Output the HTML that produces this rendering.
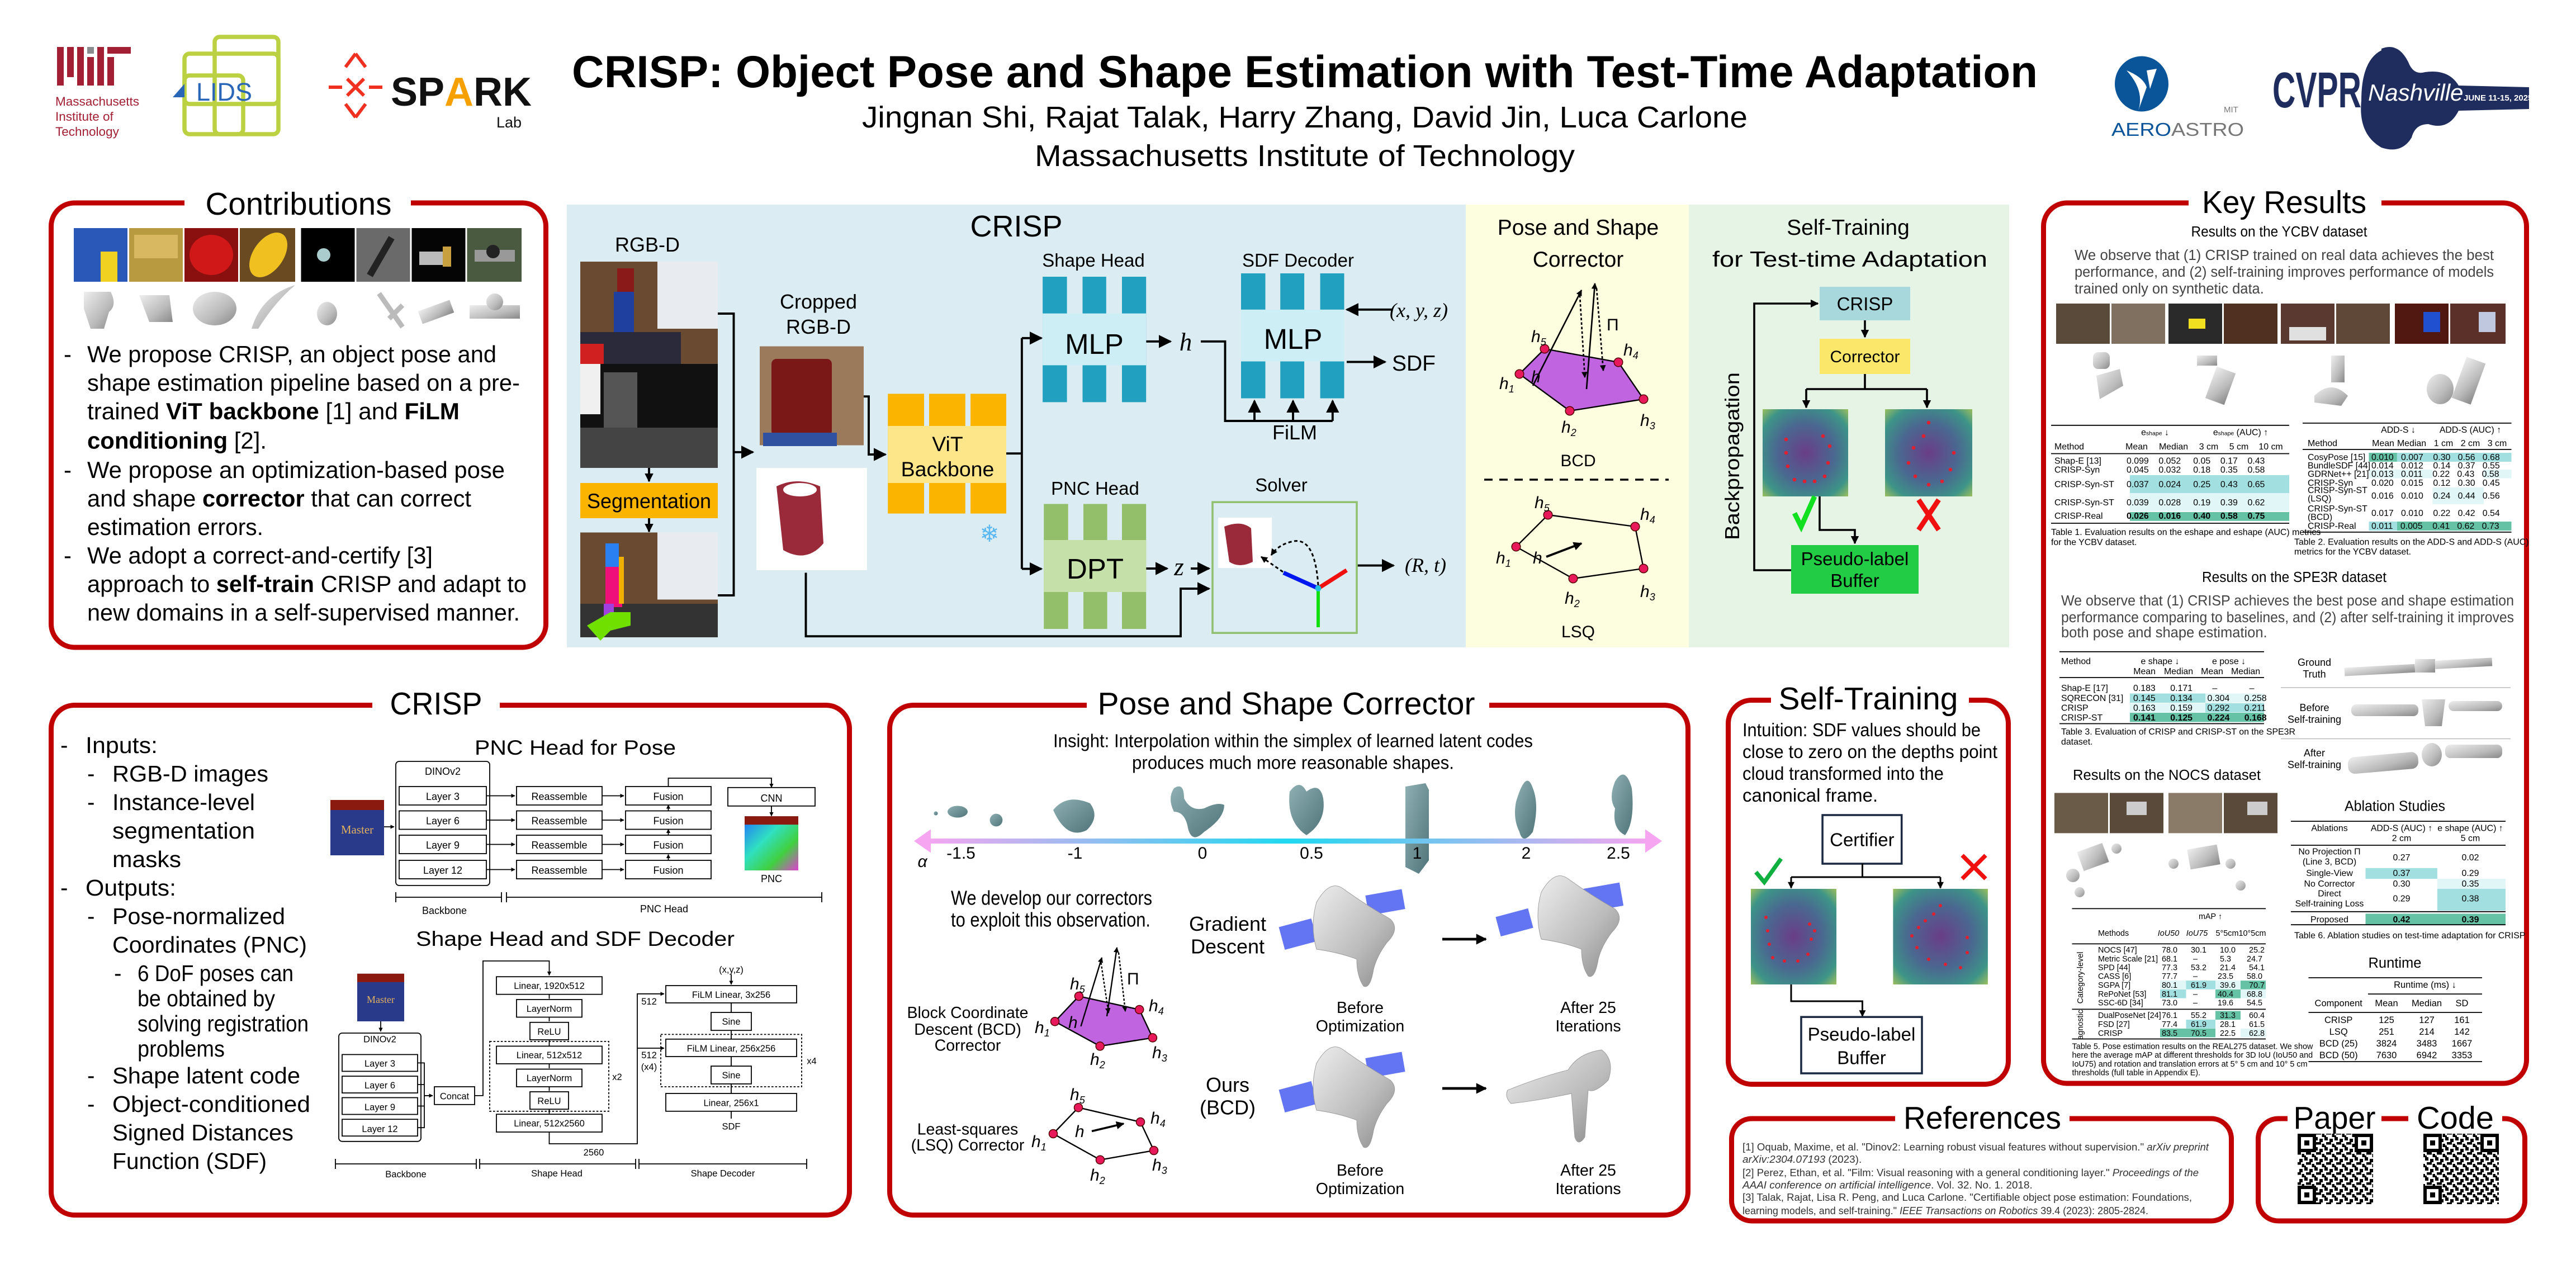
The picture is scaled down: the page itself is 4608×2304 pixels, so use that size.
<!DOCTYPE html>
<html><head><meta charset="utf-8"><style>
html,body{margin:0;padding:0;background:#fff;width:4608px;height:2304px;overflow:hidden}
svg{display:block}
text{font-family:"Liberation Sans",sans-serif;white-space:pre}
.m{font-family:"Liberation Mono",monospace}
.s{font-family:"Liberation Serif",serif}
</style></head><body>
<svg xmlns="http://www.w3.org/2000/svg" width="4608" height="2304" viewBox="0 0 1536 768" xml:space="preserve">
<defs>
<marker id="a" viewBox="0 0 10 10" refX="9" refY="5" markerWidth="4" markerHeight="4" orient="auto-start-reverse"><path d="M0,0L10,5L0,10z" fill="#000"/></marker>
<marker id="as" viewBox="0 0 10 10" refX="9" refY="5" markerWidth="6" markerHeight="6" orient="auto-start-reverse"><path d="M0,0L10,5L0,10z" fill="#000"/></marker>
<linearGradient id="rain" x1="0" x2="1"><stop offset="0" stop-color="#f6a6f0"/><stop offset=".5" stop-color="#20d8f0"/><stop offset="1" stop-color="#f6a6f0"/></linearGradient>
<radialGradient id="heat" cx=".5" cy=".5" r=".75"><stop offset="0" stop-color="#6a3d88"/><stop offset=".45" stop-color="#4a6890"/><stop offset=".75" stop-color="#3d9488"/><stop offset="1" stop-color="#b8cc50"/></radialGradient>
<linearGradient id="gray" x1="0" y1="0" x2="1" y2="1"><stop offset="0" stop-color="#eee"/><stop offset=".6" stop-color="#bbb"/><stop offset="1" stop-color="#888"/></linearGradient>
<linearGradient id="teal" x1="0" y1="0" x2="1" y2="1"><stop offset="0" stop-color="#8fb0b3"/><stop offset="1" stop-color="#4f7479"/></linearGradient>
<linearGradient id="pnc" x1="0" y1="0" x2="1" y2="1"><stop offset="0" stop-color="#2070ff"/><stop offset=".4" stop-color="#30e0c0"/><stop offset=".7" stop-color="#40d040"/><stop offset="1" stop-color="#e040d0"/></linearGradient>
<pattern id="qr" width="6" height="6" patternUnits="userSpaceOnUse"><rect width="6" height="6" fill="#fff"/><rect x="0" y="0" width="2" height="2"/><rect x="3" y="1" width="2" height="2"/><rect x="1" y="3" width="3" height="1.5"/><rect x="4.5" y="4" width="1.5" height="2"/><rect x="0" y="5" width="1" height="1"/></pattern>
</defs>

<!-- HEADER -->
<g fill="#a31f34"><rect x="34" y="28" width="4" height="23"/><rect x="40" y="28" width="4" height="18"/><rect x="46" y="28" width="4" height="23"/><rect x="52" y="34" width="4" height="17"/><rect x="58" y="28" width="4" height="23"/><rect x="64" y="28" width="14" height="4"/><rect x="64" y="34" width="4" height="17"/><rect x="52" y="28" width="4" height="4" fill="#8a8b8c"/></g>
<g fill="#a31f34" font-size="7.5"><text x="33" y="63">Massachusetts</text><text x="33" y="72">Institute of</text><text x="33" y="81">Technology</text></g>
<g fill="none" stroke="#bcd142" stroke-width="2.5"><rect x="110" y="32" width="56" height="30" rx="3"/><rect x="128" y="22" width="38" height="58" rx="3"/><rect x="110" y="45" width="35" height="35" rx="3"/></g>
<text x="117" y="60" font-size="15" fill="#2a66b8">LIDS</text>
<path d="M103,58 L110,50 L110,58z" fill="#2a66b8"/>
<g stroke="#f03020" stroke-width="2" fill="none"><path d="M212,32 l-6,8 M212,32 l6,8 M196,52 l8,0 M220,52 l8,0 M212,70 l-6,-8 M212,70 l6,-8"/><path d="M207,47 l10,10 M217,47 l-10,10"/></g>
<text x="233" y="63" font-size="24" font-weight="bold" fill="#111">SP<tspan fill="#f6a000">A</tspan>RK</text>
<text x="296" y="76" font-size="9" fill="#111">Lab</text>
<text x="778" y="52" font-size="27" font-weight="bold" text-anchor="middle" textLength="874" lengthAdjust="spacingAndGlyphs">CRISP: Object Pose and Shape Estimation with Test-Time Adaptation</text>
<text x="778" y="76" font-size="18" text-anchor="middle" textLength="528" lengthAdjust="spacingAndGlyphs">Jingnan Shi, Rajat Talak, Harry Zhang, David Jin, Luca Carlone</text>
<text x="778" y="99" font-size="18" text-anchor="middle" textLength="322" lengthAdjust="spacingAndGlyphs">Massachusetts Institute of Technology</text>
<ellipse cx="1277" cy="50" rx="16" ry="16.5" fill="#0a5599"/>
<path d="M1268,42 q10,4 12,10 l-5,14 q4,-12 -7,-24z M1280,42 l6,-1 -4,12z" fill="#fff"/>
<text x="1326" y="67" font-size="5" fill="#777">MIT</text>
<text x="1259" y="81" font-size="11" fill="#0a5599" textLength="79" lengthAdjust="spacingAndGlyphs">AERO<tspan fill="#777">ASTRO</tspan></text>
<text x="1355" y="64" font-size="30" font-weight="bold" fill="#1f2d5e" textLength="53" lengthAdjust="spacingAndGlyphs">CVPR</text>
<path d="M1420,29 q10,-4 16,8 q3,8 10,6 q14,-2 20,8 l42,1 v13 l-42,1 q-6,12 -18,8 q-8,0 -10,8 q-6,10 -18,6 q-14,-8 -12,-28 q0,-24 12,-30z" fill="#1f2d5e"/>
<text x="1412" y="60" font-size="14" font-style="italic" fill="#fff" font-family="Liberation Serif,serif">Nashville</text>
<text x="1469" y="60" font-size="5" fill="#fff" font-weight="bold">JUNE 11-15, 2025</text>

<!-- CONTRIBUTIONS -->
<rect x="30.5" y="121" width="295" height="265" rx="14" fill="none" stroke="#c00000" stroke-width="3"/>
<rect x="110" y="112" width="135" height="16" fill="#fff"/>
<text x="178" y="128" font-size="19" text-anchor="middle" textLength="111" lengthAdjust="spacingAndGlyphs">Contributions</text>
<g>
<rect x="44" y="136" width="32" height="32" fill="#2a58b8"/><rect x="60" y="150" width="10" height="18" fill="#f0d020"/>
<rect x="77" y="136" width="32" height="32" fill="#b89a40"/><rect x="80" y="140" width="26" height="14" fill="#d8b860"/>
<rect x="110" y="136" width="32" height="32" fill="#8a1010"/><ellipse cx="126" cy="152" rx="13" ry="12" fill="#d01818"/>
<rect x="143" y="136" width="33" height="32" fill="#6a4a20"/><ellipse cx="160" cy="152" rx="9" ry="15" fill="#f0c020" transform="rotate(35 160 152)"/>
<rect x="179.5" y="136" width="32" height="32" fill="#000"/><circle cx="193" cy="152" r="4" fill="#aacccc"/>
<rect x="212.5" y="136" width="32" height="32" fill="#6a6a6a"/><rect x="225" y="140" width="4" height="26" fill="#222" transform="rotate(30 227 153)"/>
<rect x="245.5" y="136" width="32" height="32" fill="#050505"/><rect x="250" y="150" width="14" height="8" fill="#bbb"/><rect x="264" y="147" width="5" height="12" fill="#c8a040"/>
<rect x="278.5" y="136" width="32.5" height="32" fill="#4a5a40"/><rect x="283" y="149" width="24" height="7" fill="#999"/><circle cx="294" cy="150" r="4" fill="#222"/>
</g>
<g fill="url(#gray)">
<path d="M50,174 h16 q4,8 -1,12 l-3,10 h-8 l-4,-12z"/><path d="M83,176 h18 l2,16 h-14z"/><ellipse cx="128" cy="184" rx="13" ry="10"/>
<path d="M150,196 q6,-20 26,-26 q-12,10 -22,26z"/><ellipse cx="195" cy="187" rx="6" ry="7"/><path d="M226,175 l14,20 M232,190 l8,-8" stroke="#bbb" stroke-width="3"/>
<rect x="250" y="182" width="20" height="8" transform="rotate(-20 260 186)"/><rect x="280" y="182" width="30" height="8"/><circle cx="295" cy="180" r="5"/>
</g>
<g font-size="14">
<text x="38" y="216">-</text><text x="38" y="285">-</text><text x="38" y="336">-</text>
<text x="52" y="216" textLength="244" lengthAdjust="spacingAndGlyphs">We propose CRISP, an object pose and</text>
<text x="52" y="233" textLength="258" lengthAdjust="spacingAndGlyphs">shape estimation pipeline based on a pre-</text>
<text x="52" y="250" textLength="222" lengthAdjust="spacingAndGlyphs">trained <tspan font-weight="bold">ViT backbone</tspan> [1] and <tspan font-weight="bold">FiLM</tspan></text>
<text x="52" y="267.5" textLength="107" lengthAdjust="spacingAndGlyphs"><tspan font-weight="bold">conditioning</tspan> [2].</text>
<text x="52" y="285" textLength="249" lengthAdjust="spacingAndGlyphs">We propose an optimization-based pose</text>
<text x="52" y="302" textLength="229" lengthAdjust="spacingAndGlyphs">and shape <tspan font-weight="bold">corrector</tspan> that can correct</text>
<text x="52" y="319" textLength="105" lengthAdjust="spacingAndGlyphs">estimation errors.</text>
<text x="52" y="336" textLength="206" lengthAdjust="spacingAndGlyphs">We adopt a correct-and-certify [3]</text>
<text x="52" y="353" textLength="262" lengthAdjust="spacingAndGlyphs">approach to <tspan font-weight="bold">self-train</tspan> CRISP and adapt to</text>
<text x="52" y="370" textLength="258" lengthAdjust="spacingAndGlyphs">new domains in a self-supervised manner.</text>
</g>

<!-- MAIN DIAGRAM -->
<rect x="338" y="122" width="536" height="264" fill="#dbedf2"/>
<rect x="874" y="122" width="133" height="264" fill="#fdfde0"/>
<rect x="1007" y="122" width="191" height="264" fill="#e6f4e6"/>
<text x="606" y="141" font-size="18" text-anchor="middle">CRISP</text>
<text x="386" y="150" font-size="12" text-anchor="middle">RGB-D</text>
<rect x="346" y="156" width="82" height="61" fill="#6a4a30"/><rect x="392" y="156" width="36" height="40" fill="#e8ecf0"/><rect x="346" y="198" width="60" height="19" fill="#2a2a3a"/><rect x="346" y="205" width="14" height="12" fill="#d02020"/><rect x="368" y="160" width="10" height="14" fill="#8a1a1a"/><rect x="366" y="174" width="12" height="24" fill="#2040a0"/>
<rect x="346" y="217" width="82" height="62" fill="#111"/><rect x="346" y="217" width="12" height="30" fill="#f0f0f0"/><rect x="360" y="222" width="20" height="40" fill="#555"/><rect x="346" y="255" width="82" height="24" fill="#444"/>
<rect x="346" y="288" width="82" height="21" fill="#fbb400"/>
<text x="387" y="303" font-size="12.5" text-anchor="middle" textLength="74" lengthAdjust="spacingAndGlyphs">Segmentation</text>
<rect x="346" y="317.5" width="82" height="62.5" fill="#6a4a30"/><rect x="392" y="317.5" width="36" height="40" fill="#e8ecf0"/><rect x="346" y="360" width="82" height="20" fill="#333"/><rect x="361" y="324" width="8" height="14" fill="#2a80f0"/><rect x="361" y="338" width="10" height="24" fill="#f0107a"/><rect x="360" y="360" width="6" height="8" fill="#a040e0"/><path d="M350,373 l14,-8 h12 v8 l-12,3 -6,6z" fill="#70e000"/><rect x="369" y="332" width="3" height="28" fill="#f0b000"/>
<g stroke="#000" stroke-width="1.3" fill="none">
<path d="M428,187 H437.5 V355 H428"/><path d="M437.5,269.6 H449" marker-end="url(#as)"/>
<path d="M387,279 V287" marker-end="url(#a)"/><path d="M387,309 V317" marker-end="url(#a)"/>
<path d="M515,236.4 H518 V271 H528" marker-end="url(#as)"/>
<path d="M600,270.4 H609.3 M609.3,201.6 V339.2"/><path d="M609.3,201.6 H621" marker-end="url(#as)"/><path d="M609.3,339.2 H621" marker-end="url(#as)"/>
<path d="M683.4,203.6 H698" marker-end="url(#as)"/>
<path d="M716,203.6 H730.5 V251 H794.6"/>
<path d="M748,251 V239" marker-end="url(#as)"/><path d="M771,251 V239" marker-end="url(#as)"/><path d="M794.6,251 V239" marker-end="url(#as)"/>
<path d="M830,184.6 H803" marker-end="url(#as)"/><path d="M803,215.8 H826" marker-end="url(#as)"/>
<path d="M683.4,339 H696" marker-end="url(#as)"/><path d="M710,339 H721" marker-end="url(#as)"/>
<path d="M809,337.2 H831" marker-end="url(#as)"/>
<path d="M480.5,341.5 V379.4 H704 V351 H721" marker-end="url(#as)"/>
</g>
<text x="488" y="184" font-size="12" text-anchor="middle">Cropped</text><text x="488" y="199" font-size="12" text-anchor="middle">RGB-D</text>
<rect x="453" y="206.5" width="62" height="59" fill="#9a7a5a"/><rect x="460" y="214" width="36" height="46" rx="3" fill="#7a1818"/><rect x="455" y="258" width="44" height="8" fill="#3050a0"/>
<rect x="451" y="279" width="66" height="61" fill="#fff"/><path d="M463,290 q12,-6 26,0 l2,34 q-10,12 -24,4z" fill="#9a2a3a"/><ellipse cx="477" cy="292" rx="10" ry="4" fill="#fff"/>
<rect x="529.4" y="234.8" width="21.6" height="71.4" fill="#fbb400"/><rect x="554" y="234.8" width="21.6" height="71.4" fill="#fbb400"/><rect x="578.7" y="234.8" width="21.3" height="71.4" fill="#fbb400"/>
<rect x="529.4" y="254" width="70.6" height="34" fill="#fde68a"/>
<text x="565" y="269" font-size="12.5" text-anchor="middle">ViT</text><text x="565" y="284" font-size="12.5" text-anchor="middle">Backbone</text>
<text x="590" y="323" font-size="14" text-anchor="middle" fill="#5bb8f0">❄</text>
<text x="652" y="159" font-size="11" text-anchor="middle">Shape Head</text>
<g fill="#22a0bf"><rect x="621.7" y="165" width="14.5" height="74.8"/><rect x="645.5" y="165" width="14.1" height="74.8"/><rect x="669" y="165" width="14.4" height="74.8"/><rect x="740" y="163" width="14.5" height="74.5"/><rect x="763.4" y="163" width="14.3" height="74.5"/><rect x="787.2" y="163" width="14.3" height="74.5"/></g>
<rect x="621.7" y="186.9" width="61.7" height="30.9" fill="#cdeef4"/><rect x="740" y="184.6" width="61.5" height="30.9" fill="#cdeef4"/>
<text x="652.5" y="211" font-size="17" text-anchor="middle">MLP</text><text x="771" y="208" font-size="17" text-anchor="middle">MLP</text>
<text x="707" y="209" font-size="15" font-style="italic" class="s" text-anchor="middle">h</text>
<text x="774" y="159" font-size="11" text-anchor="middle">SDF Decoder</text>
<text x="846" y="189" font-size="12" class="s" font-style="italic" text-anchor="middle">(x, y, z)</text>
<text x="843" y="221" font-size="13" text-anchor="middle">SDF</text>
<text x="772" y="262" font-size="12" text-anchor="middle">FiLM</text>
<text x="653" y="295" font-size="11" text-anchor="middle">PNC Head</text>
<g fill="#93bf6a"><rect x="622.4" y="300.5" width="14.5" height="74.5"/><rect x="646" y="300.5" width="14.2" height="74.5"/><rect x="669" y="300.5" width="14.4" height="74.5"/></g>
<rect x="622.4" y="322" width="61" height="31" fill="#c6e0aa"/>
<text x="653" y="345" font-size="17" text-anchor="middle">DPT</text>
<text x="703" y="343" font-size="15" font-style="italic" class="s" text-anchor="middle">z</text>
<text x="764" y="293" font-size="11" text-anchor="middle">Solver</text>
<rect x="723" y="299.4" width="86" height="78" fill="#dbedf2" stroke="#90c070" stroke-width="1.2"/>
<rect x="726.4" y="308.7" width="32" height="30" fill="#fff"/><path d="M730,314 q10,-4 16,1 l1,20 q-8,4 -14,0z" fill="#9a2a3a"/>
<path d="M786,350.8 L765.3,341.5" stroke="#0018f0" stroke-width="2.5"/><path d="M786,350.8 L803,340" stroke="#f01010" stroke-width="2.5"/><path d="M786,350.8 V374" stroke="#10e010" stroke-width="2"/><circle cx="786" cy="350.8" r="1.8" fill="#20c0e0"/>
<path d="M786,349 q-2,-30 -16,-26 q-8,2 -12,8" fill="none" stroke="#000" stroke-dasharray="2,1.5" marker-end="url(#a)"/><path d="M765,341 L752,332" fill="none" stroke="#000" stroke-dasharray="2,1.5" marker-end="url(#a)"/>
<text x="850" y="341" font-size="12" class="s" font-style="italic" text-anchor="middle">(R, t)</text>
<!-- yellow -->
<text x="941" y="140" font-size="13" text-anchor="middle">Pose and Shape</text><text x="941" y="159" font-size="13" text-anchor="middle">Corrector</text>
<polygon points="921,208 965,216 980,238 936,245 906,223" fill="#c064e0" stroke="#000" stroke-width=".8"/>
<g stroke="#000" stroke-width=".9" fill="none"><path d="M914,230 L943,173" marker-end="url(#a)"/><path d="M946,232 L951,169" marker-end="url(#a)"/><path d="M942,176 L945,225" stroke-dasharray="1.5,1.2" marker-end="url(#a)"/><path d="M952,172 L956,221" stroke-dasharray="1.5,1.2" marker-end="url(#a)"/></g>
<g fill="#e8195a" stroke="#500" stroke-width=".5"><circle cx="921" cy="208" r="2.6"/><circle cx="965" cy="216" r="2.6"/><circle cx="980" cy="238" r="2.6"/><circle cx="936" cy="245" r="2.6"/><circle cx="906" cy="223" r="2.6"/></g>
<g class="s" font-style="italic" font-size="10"><text x="913" y="204">h<tspan font-size="6" dy="2">5</tspan></text><text x="968" y="212">h<tspan font-size="6" dy="2">4</tspan></text><text x="978" y="254">h<tspan font-size="6" dy="2">3</tspan></text><text x="931" y="258">h<tspan font-size="6" dy="2">2</tspan></text><text x="894" y="232">h<tspan font-size="6" dy="2">1</tspan></text><text x="913" y="228">h</text><text x="958" y="197" font-style="normal">Π</text></g>
<text x="941" y="278" font-size="10" text-anchor="middle">BCD</text>
<path d="M885,286 H995" stroke="#000" stroke-width="1.2" stroke-dasharray="5,4"/>
<polygon points="923,307 975,314 980,339 938,345 904,326" fill="none" stroke="#000" stroke-width=".8"/>
<path d="M922,332 L943,324" stroke="#000" stroke-width="1.3" marker-end="url(#a)"/>
<g fill="#e8195a" stroke="#500" stroke-width=".5"><circle cx="923" cy="307" r="2.6"/><circle cx="975" cy="314" r="2.6"/><circle cx="980" cy="339" r="2.6"/><circle cx="938" cy="345" r="2.6"/><circle cx="904" cy="326" r="2.6"/></g>
<g class="s" font-style="italic" font-size="10"><text x="915" y="303">h<tspan font-size="6" dy="2">5</tspan></text><text x="978" y="310">h<tspan font-size="6" dy="2">4</tspan></text><text x="978" y="356">h<tspan font-size="6" dy="2">3</tspan></text><text x="933" y="360">h<tspan font-size="6" dy="2">2</tspan></text><text x="892" y="336">h<tspan font-size="6" dy="2">1</tspan></text><text x="914" y="336">h</text></g>
<text x="941" y="380" font-size="10" text-anchor="middle">LSQ</text>
<!-- green -->
<text x="1102" y="140" font-size="13" text-anchor="middle">Self-Training</text><text x="1103" y="159" font-size="13" text-anchor="middle" textLength="164" lengthAdjust="spacingAndGlyphs">for Test-time Adaptation</text>
<rect x="1085" y="171" width="54" height="20" fill="#a8d8dc"/><text x="1112" y="185" font-size="11" text-anchor="middle">CRISP</text>
<rect x="1085" y="202" width="54" height="21" fill="#fbe86a"/><text x="1112" y="216" font-size="10" text-anchor="middle">Corrector</text>
<rect x="1051" y="244" width="51" height="52" fill="url(#heat)"/><rect x="1124" y="244" width="52" height="52" fill="url(#heat)"/>
<g fill="#e02030"><circle cx="1065" cy="262" r="1.1"/><circle cx="1065" cy="270" r="1.1"/><circle cx="1066" cy="278" r="1.1"/><circle cx="1070" cy="286" r="1.1"/><circle cx="1076" cy="287" r="1.1"/><circle cx="1082" cy="287" r="1.1"/><circle cx="1088" cy="284" r="1.1"/><circle cx="1090" cy="276" r="1.1"/><circle cx="1091" cy="266" r="1.1"/><circle cx="1087" cy="260" r="1.1"/>
<circle cx="1150" cy="252" r="1.1"/><circle cx="1147" cy="260" r="1.1"/><circle cx="1141" cy="267" r="1.1"/><circle cx="1138" cy="276" r="1.1"/><circle cx="1142" cy="284" r="1.1"/><circle cx="1150" cy="289" r="1.1"/><circle cx="1158" cy="287" r="1.1"/><circle cx="1163" cy="280" r="1.1"/><circle cx="1165" cy="270" r="1.1"/></g>
<g stroke="#000" stroke-width="1.2" fill="none"><path d="M1112,191 V201" marker-end="url(#a)"/><path d="M1112,223 V232 M1077,232 H1149"/><path d="M1077,232 V243" marker-end="url(#a)"/><path d="M1149,232 V243" marker-end="url(#a)"/><path d="M1085,296 V316 H1106 V324" marker-end="url(#a)"/><path d="M1068,340 H1046 V181 H1084" marker-end="url(#a)"/></g>
<path d="M1070,306 l4,8 l8,-18" stroke="#10e020" stroke-width="3" fill="none"/>
<path d="M1144,298 l12,18 M1156,298 l-12,18" stroke="#f01010" stroke-width="3"/>
<rect x="1068" y="325" width="76" height="29" fill="#22cc44"/>
<text x="1106" y="337" font-size="11" text-anchor="middle">Pseudo-label</text><text x="1106" y="350" font-size="11" text-anchor="middle">Buffer</text>
<text transform="translate(1037,272) rotate(-90)" font-size="12" text-anchor="middle" textLength="100" lengthAdjust="spacingAndGlyphs">Backpropagation</text>

<!-- KEY RESULTS -->
<rect x="1218.5" y="121" width="288" height="525" rx="14" fill="none" stroke="#c00000" stroke-width="3"/>
<rect x="1305" y="112" width="115" height="16" fill="#fff"/>
<text x="1362" y="127" font-size="19" text-anchor="middle" textLength="98" lengthAdjust="spacingAndGlyphs">Key Results</text>
<text x="1359" y="141" font-size="8.5" text-anchor="middle" textLength="105" lengthAdjust="spacingAndGlyphs">Results on the YCBV dataset</text>
<g font-size="8.5" fill="#444"><text x="1237" y="155" textLength="250" lengthAdjust="spacingAndGlyphs">We observe that (1) CRISP trained on real data achieves the best</text><text x="1237" y="165" textLength="250" lengthAdjust="spacingAndGlyphs">performance, and (2) self-training improves performance of models</text><text x="1237" y="175">trained only on synthetic data.</text></g>
<g><rect x="1226" y="181" width="32" height="24" fill="#5a4a3a"/><rect x="1259" y="181" width="32" height="24" fill="#807060"/><rect x="1293" y="181" width="32" height="24" fill="#2a2a2a"/><rect x="1305" y="190" width="10" height="6" fill="#f0e020"/><rect x="1326" y="181" width="32" height="24" fill="#503020"/><rect x="1360" y="181" width="32" height="24" fill="#5a3a30"/><rect x="1365" y="195" width="22" height="8" fill="#e0e0e0"/><rect x="1393" y="181" width="32" height="24" fill="#604838"/><rect x="1428" y="181" width="32" height="24" fill="#501810"/><rect x="1445" y="186" width="10" height="12" fill="#2050d0"/><rect x="1461" y="181" width="33" height="24" fill="#5a3028"/><rect x="1478" y="186" width="10" height="12" fill="#c0c8e0"/></g>
<g fill="url(#gray)"><rect x="1248" y="210" width="10" height="10" rx="3"/><path d="M1250,224 l14,-4 2,10 -14,8z"/><rect x="1310" y="212" width="12" height="6"/><rect x="1318" y="220" width="12" height="20" transform="rotate(20 1324 230)"/><rect x="1390" y="212" width="8" height="16"/><path d="M1380,236 q10,-10 20,0 l-4,6 -16,-2z"/><ellipse cx="1455" cy="232" rx="8" ry="9"/><rect x="1466" y="214" width="12" height="26" transform="rotate(20 1472 227)"/></g>
<!-- table1 -->
<g font-size="5.3" class="s">
<rect x="1270" y="283.3" width="95" height="10.7" fill="#a1dfe0"/><rect x="1270" y="294" width="95" height="10.7" fill="#e0f6f7"/><rect x="1270" y="305.3" width="95" height="5.3" fill="#66c2a5"/>
<path d="M1223,253.6 H1365 M1223,270.5 H1365 M1223,312 H1365" stroke="#000" stroke-width=".6"/>
<text x="1285" y="259.5" text-anchor="middle">e<tspan font-size="3.5">shape</tspan> ↓</text><text x="1336" y="259.5" text-anchor="middle">e<tspan font-size="3.5">shape</tspan> (AUC) ↑</text>
<text x="1225" y="268">Method</text><text x="1274" y="268" text-anchor="middle">Mean</text><text x="1296" y="268" text-anchor="middle">Median</text><text x="1317" y="268" text-anchor="middle">3 cm</text><text x="1335" y="268" text-anchor="middle">5 cm</text><text x="1354" y="268" text-anchor="middle">10 cm</text>
<text x="1225" y="276.5">Shap-E [13]</text><text x="1268" y="276.5">0.099    0.052     0.05    0.17    0.43</text>
<text x="1225" y="281.8">CRISP-Syn</text><text x="1268" y="281.8">0.045    0.032     0.18    0.35    0.58</text>
<text x="1225" y="290.5">CRISP-Syn-ST</text><text x="1268" y="290.5">0.037    0.024     0.25    0.43    0.65</text>
<text x="1225" y="301.3">CRISP-Syn-ST</text><text x="1268" y="301.3">0.039    0.028     0.19    0.39    0.62</text>
<text x="1225" y="309.4">CRISP-Real</text><text x="1268" y="309.4" font-weight="bold">0.026    0.016     0.40    0.58    0.75</text>
<text x="1223" y="319">Table 1. Evaluation results on the eshape and eshape (AUC) metrics</text><text x="1223" y="325">for the YCBV dataset.</text>
</g>
<g font-size="5.3" class="s">
<rect x="1412.5" y="270" width="16.8" height="5.3" fill="#66c2a5"/><rect x="1429.3" y="270" width="68.2" height="5.3" fill="#a1dfe0"/><rect x="1412.5" y="280" width="38" height="5.2" fill="#e0f6f7"/><rect x="1481" y="280" width="16.5" height="5.2" fill="#e0f6f7"/><rect x="1450.5" y="290.6" width="30.5" height="10" fill="#e0f6f7"/><rect x="1412.5" y="311" width="16.8" height="5.4" fill="#a1dfe0"/><rect x="1429.3" y="311" width="68.2" height="5.4" fill="#66c2a5"/>
<path d="M1373,252.3 H1497.5 M1373,268 H1497.5 M1373,317.3 H1497.5" stroke="#000" stroke-width=".6"/>
<text x="1430" y="258" text-anchor="middle">ADD-S ↓</text><text x="1473" y="258" text-anchor="middle">ADD-S (AUC) ↑</text>
<text x="1376" y="266">Method</text><text x="1421" y="266" text-anchor="middle">Mean</text><text x="1438" y="266" text-anchor="middle">Median</text><text x="1457" y="266" text-anchor="middle">1 cm</text><text x="1473" y="266" text-anchor="middle">2 cm</text><text x="1489" y="266" text-anchor="middle">3 cm</text>
<text x="1376" y="274.3">CosyPose [15]</text><text x="1414" y="274.3">0.010   0.007    0.30   0.56   0.68</text>
<text x="1376" y="279.3">BundleSDF [44]</text><text x="1414" y="279.3">0.014   0.012    0.14   0.37   0.55</text>
<text x="1376" y="284.3">GDRNet++ [21]</text><text x="1414" y="284.3">0.013   0.011    0.22   0.43   0.58</text>
<text x="1376" y="289.6">CRISP-Syn</text><text x="1414" y="289.6">0.020   0.015    0.12   0.30   0.45</text>
<text x="1376" y="294">CRISP-Syn-ST</text><text x="1376" y="299">(LSQ)</text><text x="1414" y="297.3">0.016   0.010    0.24   0.44   0.56</text>
<text x="1376" y="305">CRISP-Syn-ST</text><text x="1376" y="310">(BCD)</text><text x="1414" y="307.6">0.017   0.010    0.22   0.42   0.54</text>
<text x="1376" y="315.4">CRISP-Real</text><text x="1414" y="315.4">0.011   0.005    0.41   0.62   0.73</text>
<text x="1368" y="324.8">Table 2. Evaluation results on the ADD-S and ADD-S (AUC)</text><text x="1368" y="330.7">metrics for the YCBV dataset.</text>
</g>
<text x="1368" y="347" font-size="8.5" text-anchor="middle" textLength="110" lengthAdjust="spacingAndGlyphs">Results on the SPE3R dataset</text>
<g font-size="8.5" fill="#444"><text x="1229" y="361" textLength="270" lengthAdjust="spacingAndGlyphs">We observe that (1) CRISP achieves the best pose and shape estimation</text><text x="1229" y="371" textLength="270" lengthAdjust="spacingAndGlyphs">performance comparing to baselines, and (2) after self-training it improves</text><text x="1229" y="380">both pose and shape estimation.</text></g>
<g font-size="5.3" class="s">
<rect x="1270" y="413.5" width="45" height="5.5" fill="#a1dfe0"/><rect x="1315" y="413.5" width="35" height="5.5" fill="#e0f6f7"/><rect x="1270" y="419.3" width="45" height="5.5" fill="#e0f6f7"/><rect x="1315" y="419.3" width="35" height="5.5" fill="#a1dfe0"/><rect x="1270" y="425" width="80" height="5.5" fill="#66c2a5"/>
<path d="M1228,388.6 H1350 M1228,404 H1350 M1228,431.5 H1350" stroke="#000" stroke-width=".6"/>
<text x="1229" y="396">Method</text><text x="1288" y="396" text-anchor="middle">e shape ↓</text><text x="1329" y="396" text-anchor="middle">e pose ↓</text>
<text x="1278.7" y="402" text-anchor="middle">Mean</text><text x="1299" y="402" text-anchor="middle">Median</text><text x="1319" y="402" text-anchor="middle">Mean</text><text x="1339" y="402" text-anchor="middle">Median</text>
<text x="1229" y="412">Shap-E [17]</text><text x="1272" y="412">0.183      0.171        –             –</text>
<text x="1229" y="418">SQRECON [31]</text><text x="1272" y="418">0.145      0.134      0.304      0.258</text>
<text x="1229" y="423.8">CRISP</text><text x="1272" y="423.8">0.163      0.159      0.292      0.211</text>
<text x="1229" y="429.6">CRISP-ST</text><text x="1272" y="429.6" font-weight="bold">0.141      0.125      0.224      0.168</text>
<text x="1229" y="438">Table 3. Evaluation of CRISP and CRISP-ST on the SPE3R</text><text x="1229" y="444">dataset.</text>
</g>
<g font-size="6" text-anchor="middle"><text x="1380" y="397">Ground</text><text x="1380" y="404">Truth</text><text x="1380" y="424">Before</text><text x="1380" y="431">Self-training</text><text x="1380" y="451">After</text><text x="1380" y="458">Self-training</text></g>
<path d="M1360,410 H1497 M1360,440.5 H1497" stroke="#bbb" stroke-width=".5"/>
<g fill="url(#gray)"><rect x="1398" y="397" width="42" height="5" transform="rotate(-3 1420 400)"/><rect x="1440" y="393" width="12" height="8"/><rect x="1452" y="393" width="34" height="5" transform="rotate(-3 1470 396)"/><rect x="1402" y="420" width="40" height="7" rx="3"/><path d="M1444,417 h14 l-2,16 h-10z"/><rect x="1460" y="418" width="32" height="6" rx="3"/><rect x="1400" y="450" width="42" height="10" rx="4" transform="rotate(-5 1420 455)"/><ellipse cx="1450" cy="450" rx="6" ry="7"/><rect x="1458" y="444" width="34" height="8" rx="3"/></g>
<text x="1292" y="465" font-size="8.5" text-anchor="middle" textLength="112" lengthAdjust="spacingAndGlyphs">Results on the NOCS dataset</text>
<g><rect x="1225" y="472.8" width="32" height="24" fill="#6a5a48"/><rect x="1258" y="472.8" width="32" height="24" fill="#5a4a3a"/><rect x="1293" y="472.8" width="32" height="24" fill="#8a7a68"/><rect x="1326" y="472.8" width="32" height="24" fill="#5a4a3a"/><rect x="1268" y="478" width="12" height="8" fill="#ccc"/><rect x="1340" y="478" width="12" height="8" fill="#ccc"/></g>
<g fill="url(#gray)"><rect x="1240" y="505" width="16" height="12" transform="rotate(-20 1248 511)"/><circle cx="1262" cy="506" r="3"/><circle cx="1236" cy="522" r="4"/><circle cx="1240" cy="532" r="3"/><rect x="1305" y="505" width="18" height="12" transform="rotate(-10 1314 511)"/><circle cx="1296" cy="515" r="3"/><circle cx="1330" cy="515" r="3"/><circle cx="1336" cy="528" r="3"/></g>
<g font-size="4.8" class="s">
<rect x="1288" y="584.7" width="15.5" height="5.2" fill="#e0f6f7"/><rect x="1303.5" y="584.7" width="17.5" height="5.2" fill="#a1dfe0"/><rect x="1321" y="584.7" width="15" height="5.2" fill="#e0f6f7"/><rect x="1336" y="584.7" width="15" height="5.2" fill="#66c2a5"/>
<rect x="1288" y="590" width="15.5" height="5.2" fill="#a1dfe0"/><rect x="1321" y="590" width="15" height="5.2" fill="#66c2a5"/><rect x="1336" y="590" width="15" height="5.2" fill="#e0f6f7"/>
<rect x="1321" y="602.8" width="15" height="5.2" fill="#66c2a5"/><rect x="1303.5" y="608" width="17.5" height="5.2" fill="#a1dfe0"/><rect x="1288" y="613.3" width="33" height="5.2" fill="#66c2a5"/><rect x="1336" y="613.3" width="15" height="5.2" fill="#e0f6f7"/>
<path d="M1235.5,541.8 H1351 M1235.5,562.8 H1351 M1235.5,601.8 H1351 M1235.5,619.5 H1351" stroke="#000" stroke-width=".6"/>
<text x="1318" y="548" text-anchor="middle">mAP ↑</text><text x="1251" y="558">Methods</text><text x="1293" y="558" text-anchor="middle" font-style="italic">IoU50</text><text x="1310" y="558" text-anchor="middle" font-style="italic">IoU75</text><text x="1328" y="558" text-anchor="middle">5°5cm</text><text x="1343" y="558" text-anchor="middle">10°5cm</text>
<text x="1251" y="568">NOCS [47]</text><text x="1289" y="568">78.0      30.1      10.0      25.2</text>
<text x="1251" y="573.3">Metric Scale [21]</text><text x="1289" y="573.3">68.1       –          5.3       24.7</text>
<text x="1251" y="578.5">SPD [44]</text><text x="1289" y="578.5">77.3      53.2      21.4      54.1</text>
<text x="1251" y="583.7">CASS [6]</text><text x="1289" y="583.7">77.7       –         23.5      58.0</text>
<text x="1251" y="589">SGPA [7]</text><text x="1289" y="589">80.1      61.9      39.6      70.7</text>
<text x="1251" y="594.3">RePoNet [53]</text><text x="1289" y="594.3">81.1       –         40.4      68.8</text>
<text x="1251" y="599.5">SSC-6D [34]</text><text x="1289" y="599.5">73.0       –         19.6      54.5</text>
<text x="1251" y="607">DualPoseNet [24]</text><text x="1289" y="607">76.1      55.2      31.3      60.4</text>
<text x="1251" y="612.3">FSD [27]</text><text x="1289" y="612.3">77.4      61.9      28.1      61.5</text>
<text x="1251" y="617.6">CRISP</text><text x="1289" y="617.6">83.5      70.5      22.5      62.8</text>
<text transform="translate(1242,583) rotate(-90)" text-anchor="middle">Category-level</text><text transform="translate(1242,611) rotate(-90)" text-anchor="middle">agnostic</text>
<text x="1235.5" y="625.5">Table 5. Pose estimation results on the REAL275 dataset. We show</text><text x="1235.5" y="630.7">here the average mAP at different thresholds for 3D IoU (IoU50 and</text><text x="1235.5" y="636">IoU75) and rotation and translation errors at 5° 5 cm and 10° 5 cm</text><text x="1235.5" y="641.2">thresholds (full table in Appendix E).</text>
</g>
<text x="1428" y="483.5" font-size="8.5" text-anchor="middle" textLength="60" lengthAdjust="spacingAndGlyphs">Ablation Studies</text>
<g font-size="5.3" class="s">
<rect x="1410.5" y="517.6" width="42.8" height="6.4" fill="#a1dfe0"/><rect x="1453.3" y="524" width="40.7" height="6" fill="#e0f6f7"/><rect x="1453.3" y="530" width="40.7" height="13" fill="#a1dfe0"/><rect x="1410.5" y="544.8" width="83.5" height="6.6" fill="#66c2a5"/>
<path d="M1366,489.7 H1494 M1366,504 H1494 M1366,543.6 H1494 M1366,551.4 H1494" stroke="#000" stroke-width=".6"/>
<text x="1389" y="495.5" text-anchor="middle">Ablations</text><text x="1432" y="495.5" text-anchor="middle">ADD-S (AUC) ↑</text><text x="1432" y="501.5" text-anchor="middle">2 cm</text><text x="1473" y="495.5" text-anchor="middle">e shape (AUC) ↑</text><text x="1473" y="501.5" text-anchor="middle">5 cm</text>
<text x="1389" y="509.5" text-anchor="middle">No Projection Π</text><text x="1389" y="515.5" text-anchor="middle">(Line 3, BCD)</text><text x="1432" y="513" text-anchor="middle">0.27</text><text x="1473" y="513" text-anchor="middle">0.02</text>
<text x="1389" y="522.4" text-anchor="middle">Single-View</text><text x="1432" y="522.4" text-anchor="middle">0.37</text><text x="1473" y="522.4" text-anchor="middle">0.29</text>
<text x="1389" y="528.7" text-anchor="middle">No Corrector</text><text x="1432" y="528.7" text-anchor="middle">0.30</text><text x="1473" y="528.7" text-anchor="middle">0.35</text>
<text x="1389" y="534.5" text-anchor="middle">Direct</text><text x="1389" y="540.5" text-anchor="middle">Self-training Loss</text><text x="1432" y="537.5" text-anchor="middle">0.29</text><text x="1473" y="537.5" text-anchor="middle">0.38</text>
<text x="1389" y="550" text-anchor="middle">Proposed</text><text x="1432" y="550" text-anchor="middle" font-weight="bold">0.42</text><text x="1473" y="550" text-anchor="middle" font-weight="bold">0.39</text>
<text x="1368" y="559.5">Table 6. Ablation studies on test-time adaptation for CRISP</text>
</g>
<text x="1428" y="577" font-size="8.5" text-anchor="middle">Runtime</text>
<g font-size="5.5" class="s">
<path d="M1376.5,583 H1480 M1412,592.7 H1480 M1376.5,603.7 H1480 M1376.5,633 H1480" stroke="#000" stroke-width=".6"/>
<text x="1446" y="589" text-anchor="middle">Runtime (ms) ↓</text>
<text x="1394.4" y="600" text-anchor="middle">Component</text><text x="1423" y="600" text-anchor="middle">Mean</text><text x="1447" y="600" text-anchor="middle">Median</text><text x="1468" y="600" text-anchor="middle">SD</text>
<text x="1394.4" y="610" text-anchor="middle">CRISP</text><text x="1423" y="610" text-anchor="middle">125</text><text x="1447" y="610" text-anchor="middle">127</text><text x="1468" y="610" text-anchor="middle">161</text>
<text x="1394.4" y="617" text-anchor="middle">LSQ</text><text x="1423" y="617" text-anchor="middle">251</text><text x="1447" y="617" text-anchor="middle">214</text><text x="1468" y="617" text-anchor="middle">142</text>
<text x="1394.4" y="624" text-anchor="middle">BCD (25)</text><text x="1423" y="624" text-anchor="middle">3824</text><text x="1447" y="624" text-anchor="middle">3483</text><text x="1468" y="624" text-anchor="middle">1667</text>
<text x="1394.4" y="631" text-anchor="middle">BCD (50)</text><text x="1423" y="631" text-anchor="middle">7630</text><text x="1447" y="631" text-anchor="middle">6942</text><text x="1468" y="631" text-anchor="middle">3353</text>
</g>

<!-- CRISP bottom-left -->
<rect x="30.5" y="420.5" width="476" height="304" rx="14" fill="none" stroke="#c00000" stroke-width="3"/>
<rect x="222" y="411" width="76" height="16" fill="#fff"/>
<text x="260" y="426" font-size="19" text-anchor="middle" textLength="55" lengthAdjust="spacingAndGlyphs">CRISP</text>
<g font-size="13.5">
<text x="36" y="449">-</text><text x="51" y="449" textLength="43" lengthAdjust="spacingAndGlyphs">Inputs:</text>
<text x="52" y="466">-</text><text x="67" y="466" textLength="93" lengthAdjust="spacingAndGlyphs">RGB-D images</text>
<text x="52" y="483">-</text><text x="67" y="483" textLength="85" lengthAdjust="spacingAndGlyphs">Instance-level</text>
<text x="67" y="500" textLength="85" lengthAdjust="spacingAndGlyphs">segmentation</text>
<text x="67" y="517" textLength="41" lengthAdjust="spacingAndGlyphs">masks</text>
<text x="36" y="534">-</text><text x="51" y="534" textLength="54" lengthAdjust="spacingAndGlyphs">Outputs:</text>
<text x="52" y="551">-</text><text x="67" y="551" textLength="103" lengthAdjust="spacingAndGlyphs">Pose-normalized</text>
<text x="67" y="568" textLength="116" lengthAdjust="spacingAndGlyphs">Coordinates (PNC)</text>
<text x="68" y="585">-</text><text x="82" y="585" textLength="93" lengthAdjust="spacingAndGlyphs">6 DoF poses can</text>
<text x="82" y="600" textLength="82" lengthAdjust="spacingAndGlyphs">be obtained by</text>
<text x="82" y="615" textLength="102" lengthAdjust="spacingAndGlyphs">solving registration</text>
<text x="82" y="630" textLength="52" lengthAdjust="spacingAndGlyphs">problems</text>
<text x="52" y="646">-</text><text x="67" y="646" textLength="112" lengthAdjust="spacingAndGlyphs">Shape latent code</text>
<text x="52" y="663">-</text><text x="67" y="663" textLength="118" lengthAdjust="spacingAndGlyphs">Object-conditioned</text>
<text x="67" y="680" textLength="108" lengthAdjust="spacingAndGlyphs">Signed Distances</text>
<text x="67" y="697" textLength="92" lengthAdjust="spacingAndGlyphs">Function (SDF)</text>
</g>
<text x="343" y="450" font-size="12.5" text-anchor="middle" textLength="120" lengthAdjust="spacingAndGlyphs">PNC Head for Pose</text>
<rect x="197" y="477" width="32" height="33" fill="#2a3a8a"/><rect x="197" y="477" width="32" height="6" fill="#8a1a10"/><text x="213" y="497" font-size="7" fill="#e0b060" text-anchor="middle" class="s">Master</text>
<g fill="none" stroke="#000" stroke-width=".6">
<rect x="236" y="454" width="56" height="74" rx="2"/>
<rect x="238" y="469" width="52" height="11"/><rect x="238" y="483.5" width="52" height="11"/><rect x="238" y="498" width="52" height="11"/><rect x="238" y="513" width="52" height="11"/>
<rect x="308" y="469" width="51" height="11"/><rect x="308" y="483.5" width="51" height="11"/><rect x="308" y="498" width="51" height="11"/><rect x="308" y="513" width="51" height="11"/>
<rect x="373" y="469" width="51" height="11"/><rect x="373" y="483.5" width="51" height="11"/><rect x="373" y="498" width="51" height="11"/><rect x="373" y="513" width="51" height="11"/>
<rect x="434" y="469.6" width="52" height="11"/>
<path d="M229,493 H235" marker-end="url(#a)"/>
<path d="M290,474.5 H307" marker-end="url(#a)"/><path d="M290,489 H307" marker-end="url(#a)"/><path d="M290,503.5 H307" marker-end="url(#a)"/><path d="M290,518.5 H307" marker-end="url(#a)"/>
<path d="M359,474.5 H372" marker-end="url(#a)"/><path d="M359,489 H372" marker-end="url(#a)"/><path d="M359,503.5 H372" marker-end="url(#a)"/><path d="M359,518.5 H372" marker-end="url(#a)"/>
<path d="M398.5,513 V509.5" marker-end="url(#a)"/><path d="M398.5,498 V494.5" marker-end="url(#a)"/><path d="M398.5,483.5 V480" marker-end="url(#a)"/>
<path d="M398.5,469 V464 H460 V469.5" marker-end="url(#a)"/><path d="M460,480.6 V486.5" marker-end="url(#a)"/>
<path d="M236,535 H299 M236,532 V538 M299,532 V538 M302,535 H490 M302,532 V538 M490,532 V538"/>
</g>
<rect x="444" y="486.7" width="32" height="32.3" fill="url(#pnc)"/><rect x="444" y="486.7" width="32" height="5" fill="#8a1a10"/>
<g class="m" font-size="6" text-anchor="middle">
<text x="264" y="462">DINOv2</text><text x="264" y="477">Layer 3</text><text x="264" y="491.5">Layer 6</text><text x="264" y="506">Layer 9</text><text x="264" y="521">Layer 12</text>
<text x="333.5" y="477">Reassemble</text><text x="333.5" y="491.5">Reassemble</text><text x="333.5" y="506">Reassemble</text><text x="333.5" y="521">Reassemble</text>
<text x="398.5" y="477">Fusion</text><text x="398.5" y="491.5">Fusion</text><text x="398.5" y="506">Fusion</text><text x="398.5" y="521">Fusion</text>
<text x="460" y="478">CNN</text><text x="460" y="526">PNC</text><text x="265" y="545">Backbone</text><text x="396" y="544">PNC Head</text>
</g>
<text x="343" y="564" font-size="12.5" text-anchor="middle" textLength="190" lengthAdjust="spacingAndGlyphs">Shape Head and SDF Decoder</text>
<rect x="213" y="580.6" width="28" height="28.4" fill="#2a3a8a"/><rect x="213" y="580.6" width="28" height="5" fill="#8a1a10"/><text x="227" y="598" font-size="6" fill="#e0b060" text-anchor="middle" class="s">Master</text>
<g fill="none" stroke="#000" stroke-width=".6">
<rect x="202" y="616" width="49" height="64.6" rx="2"/>
<rect x="204" y="628.8" width="45" height="10"/><rect x="204" y="641.7" width="45" height="10"/><rect x="204" y="654.5" width="45" height="10"/><rect x="204" y="667.4" width="45" height="10"/>
<rect x="259" y="648" width="24" height="10.6"/>
<path d="M249,633.8 H253 V672.4 H249 M249,646.7 H253 M249,659.5 H253 M253,653.3 H258" />
<path d="M227,609 V615" marker-end="url(#a)"/><path d="M253,653.3 H258" marker-end="url(#a)"/>
<path d="M283,653.3 H288 V573 H327.5 V581.5" marker-end="url(#a)"/>
<rect x="296" y="582.4" width="63" height="10.5"/><rect x="308" y="596" width="39" height="10.5"/><rect x="316" y="609.6" width="23" height="10.4"/>
<rect x="292" y="621" width="71" height="41.6" stroke-dasharray="1.2,1"/>
<rect x="296" y="623.8" width="63" height="10.5"/><rect x="308" y="637.5" width="39" height="10.5"/><rect x="316" y="651" width="23" height="10.4"/>
<rect x="296" y="664.4" width="63" height="10.6"/>
<path d="M327.5,592.9 V595.5 M327.5,606.5 V609 M327.5,620 V623.5 M327.5,634.3 V637 M327.5,648 V650.5 M327.5,661.4 V664"/>
<path d="M327.5,675 V682 H380 V592.6 H396" marker-end="url(#a)"/><path d="M380,625 H396" marker-end="url(#a)"/>
<rect x="397" y="587.7" width="78" height="10.3"/><rect x="424" y="603.7" width="24" height="10.7"/>
<rect x="394" y="616.8" width="84" height="31.2" stroke-dasharray="1.2,1"/>
<rect x="397" y="619.6" width="78" height="10.4"/><rect x="424" y="635.7" width="24" height="10.6"/><rect x="397" y="652" width="78" height="10.6"/>
<path d="M436,581 V587" marker-end="url(#a)"/><path d="M436,598 V603.5 M436,614.4 V619.5 M436,630 V635.5 M436,646.3 V651.8 M436,662.6 V667"/>
<path d="M200,694 H284 M200,691 V697 M284,691 V697 M286,694 H379 M286,691 V697 M379,691 V697 M381,694 H481 M381,691 V697 M481,691 V697"/>
</g>
<g class="m" font-size="5.5" text-anchor="middle">
<text x="226.5" y="621.5">DINOv2</text><text x="226.5" y="636">Layer 3</text><text x="226.5" y="649">Layer 6</text><text x="226.5" y="662">Layer 9</text><text x="226.5" y="675">Layer 12</text>
<text x="271" y="655.5">Concat</text>
<text x="327.5" y="589.7">Linear, 1920x512</text><text x="327.5" y="603.3">LayerNorm</text><text x="327.5" y="617">ReLU</text>
<text x="327.5" y="631">Linear, 512x512</text><text x="327.5" y="644.7">LayerNorm</text><text x="327.5" y="658.3">ReLU</text><text x="327.5" y="671.7">Linear, 512x2560</text>
<text x="368" y="644">x2</text><text x="354" y="689">2560</text><text x="387" y="599">512</text><text x="387" y="631">512</text><text x="387" y="638">(x4)</text>
<text x="436" y="580">(x,y,z)</text><text x="436" y="595">FiLM Linear, 3x256</text><text x="436" y="611">Sine</text><text x="436" y="627">FiLM Linear, 256x256</text><text x="436" y="643">Sine</text><text x="436" y="659.5">Linear, 256x1</text><text x="436" y="673.5">SDF</text><text x="484" y="634.5">x4</text>
<text x="242" y="702">Backbone</text><text x="332" y="701.5">Shape Head</text><text x="431" y="701.5">Shape Decoder</text>
</g>

<!-- POSE AND SHAPE CORRECTOR -->
<rect x="530.5" y="420.5" width="476" height="304" rx="14" fill="none" stroke="#c00000" stroke-width="3"/>
<rect x="648" y="411" width="240" height="16" fill="#fff"/>
<text x="767" y="426" font-size="19" text-anchor="middle" textLength="225" lengthAdjust="spacingAndGlyphs">Pose and Shape Corrector</text>
<text x="771" y="445.5" font-size="11" text-anchor="middle" textLength="286" lengthAdjust="spacingAndGlyphs">Insight: Interpolation within the simplex of learned latent codes</text>
<text x="771" y="458.5" font-size="11" text-anchor="middle" textLength="192" lengthAdjust="spacingAndGlyphs">produces much more reasonable shapes.</text>
<g fill="url(#teal)">
<ellipse cx="571" cy="484" rx="6" ry="3.5"/><circle cx="594" cy="489" r="3.8"/><circle cx="558" cy="485" r="1.2"/>
<path d="M628,483 q8,-10 22,-4 q6,8 -2,16 q-12,6 -20,-12z"/>
<path d="M700,470 q6,-4 6,6 q4,8 12,6 q8,-4 12,-2 q0,8 -12,16 q-8,8 -10,-4 q-2,-8 -8,-8 q-4,-8 0,-14z"/>
<path d="M769,472 q6,-8 10,0 q8,-6 10,4 q2,14 -10,22 q-12,-8 -10,-26z"/>
<path d="M838,469 l12,-2 2,4 v42 l-6,8 -8,-4z"/>
<path d="M904,478 q6,-20 10,-8 q4,10 0,26 q-6,8 -8,0 q-4,-8 -2,-18z"/>
<path d="M963,466 q6,-10 10,4 q2,20 -4,28 q-8,-4 -6,-16 q-4,-6 0,-16z"/>
</g>
<rect x="552" y="500" width="432" height="3" fill="url(#rain)"/>
<path d="M545,501.5 l10,-7 v14z" fill="#f6a6f0"/><path d="M991,501.5 l-10,-7 v14z" fill="#f6a6f0"/>
<g class="s" font-size="10" text-anchor="middle"><text x="573" y="512">-1.5</text><text x="641" y="512">-1</text><text x="717" y="512">0</text><text x="782" y="512">0.5</text><text x="845" y="512">1</text><text x="910" y="512">2</text><text x="965" y="512">2.5</text><text x="550" y="517" font-style="italic">α</text></g>
<text x="567" y="539.5" font-size="12" textLength="120" lengthAdjust="spacingAndGlyphs">We develop our correctors</text>
<text x="567" y="552.5" font-size="12" textLength="119" lengthAdjust="spacingAndGlyphs">to exploit this observation.</text>
<g font-size="12" text-anchor="middle"><text x="732" y="555">Gradient</text><text x="732" y="568.5">Descent</text><text x="732" y="651">Ours</text><text x="732" y="664.5">(BCD)</text></g>
<g font-size="9.5" text-anchor="middle"><text x="811" y="604">Before</text><text x="811" y="615">Optimization</text><text x="947" y="604">After 25</text><text x="947" y="615">Iterations</text><text x="811" y="701">Before</text><text x="811" y="712">Optimization</text><text x="947" y="701">After 25</text><text x="947" y="712">Iterations</text></g>
<g fill="#3048f0" opacity=".75"><rect x="764" y="550" width="20" height="14" transform="rotate(-15 774 557)"/><rect x="815" y="532" width="22" height="12" transform="rotate(-10 826 538)"/><rect x="893" y="544" width="20" height="12" transform="rotate(-15 903 550)"/><rect x="945" y="528" width="22" height="14" transform="rotate(-10 956 535)"/><rect x="764" y="647" width="20" height="14" transform="rotate(-15 774 654)"/><rect x="815" y="629" width="22" height="12" transform="rotate(-10 826 635)"/></g>
<g fill="url(#gray)" stroke="#999" stroke-width=".3">
<path d="M785,538 q8,-14 16,-8 q14,10 28,18 q6,6 -2,14 q-6,8 -8,16 q-2,12 -6,10 q-4,-6 -4,-16 q-10,-4 -24,-6 q-4,-14 0,-28z"/>
<path d="M919,532 q8,-14 16,-8 q14,10 28,18 q6,6 -2,14 q-6,8 -8,16 q-2,12 -6,10 q-4,-6 -4,-16 q-10,-4 -24,-6 q-4,-14 0,-28z"/>
<path d="M785,634 q8,-14 16,-8 q14,10 28,18 q6,6 -2,14 q-6,8 -8,16 q-2,12 -6,10 q-4,-6 -4,-16 q-10,-4 -24,-6 q-4,-14 0,-28z"/>
<path d="M899,650 q20,-8 36,-12 q6,-10 20,-12 q8,6 4,18 q-8,8 -12,6 l-2,28 q-4,6 -6,0 l-2,-26 q-18,4 -36,6 q-4,-4 -2,-8z"/>
</g>
<path d="M860,560 H886" stroke="#000" stroke-width="1.6" marker-end="url(#a)"/><path d="M860,649 H886" stroke="#000" stroke-width="1.6" marker-end="url(#a)"/>
<g font-size="9.5" text-anchor="middle"><text x="577" y="607">Block Coordinate</text><text x="577" y="617">Descent (BCD)</text><text x="577" y="626.5">Corrector</text><text x="577" y="676.5">Least-squares</text><text x="577" y="686">(LSQ) Corrector</text></g>
<polygon points="643.3,594 679.4,602 687.3,618.8 655.9,623.8 629,609.1" fill="#c064e0" stroke="#000" stroke-width=".8"/>
<g stroke="#000" stroke-width=".8" fill="none"><path d="M644.5,612 L657,571" marker-end="url(#a)"/><path d="M660,606 L666,565" marker-end="url(#a)"/><path d="M656.5,574 L661,604" stroke-dasharray="1.3,1" marker-end="url(#a)"/><path d="M667,568 L671,603" stroke-dasharray="1.3,1" marker-end="url(#a)"/></g>
<g fill="#e8195a" stroke="#500" stroke-width=".5"><circle cx="643.3" cy="594" r="2.5"/><circle cx="679.4" cy="602" r="2.5"/><circle cx="687.3" cy="618.8" r="2.5"/><circle cx="655.9" cy="623.8" r="2.5"/><circle cx="629" cy="609.1" r="2.5"/></g>
<g class="s" font-style="italic" font-size="10"><text x="638" y="590">h<tspan font-size="6" dy="2">5</tspan></text><text x="685" y="603">h<tspan font-size="6" dy="2">4</tspan></text><text x="687" y="631">h<tspan font-size="6" dy="2">3</tspan></text><text x="650" y="635">h<tspan font-size="6" dy="2">2</tspan></text><text x="617" y="616">h<tspan font-size="6" dy="2">1</tspan></text><text x="637" y="613">h</text><text x="672" y="587" font-style="normal">Π</text></g>
<polygon points="643,660.4 680,669 688,686 656,691.6 628,676" fill="none" stroke="#000" stroke-width=".8"/>
<path d="M651,674.5 L670,670" stroke="#000" stroke-width="1.2" marker-end="url(#a)"/>
<g fill="#e8195a" stroke="#500" stroke-width=".5"><circle cx="643" cy="660.4" r="2.5"/><circle cx="680" cy="669" r="2.5"/><circle cx="688" cy="686" r="2.5"/><circle cx="656" cy="691.6" r="2.5"/><circle cx="628" cy="676" r="2.5"/></g>
<g class="s" font-style="italic" font-size="10"><text x="638" y="656">h<tspan font-size="6" dy="2">5</tspan></text><text x="686" y="670">h<tspan font-size="6" dy="2">4</tspan></text><text x="687" y="698">h<tspan font-size="6" dy="2">3</tspan></text><text x="650" y="704">h<tspan font-size="6" dy="2">2</tspan></text><text x="615" y="684">h<tspan font-size="6" dy="2">1</tspan></text><text x="641" y="678">h</text></g>

<!-- SELF-TRAINING -->
<rect x="1030.5" y="417.5" width="167" height="229" rx="14" fill="none" stroke="#c00000" stroke-width="3"/>
<rect x="1056" y="408" width="118" height="16" fill="#fff"/>
<text x="1114" y="423" font-size="19" text-anchor="middle" textLength="107" lengthAdjust="spacingAndGlyphs">Self-Training</text>
<g font-size="11"><text x="1039" y="439" textLength="142" lengthAdjust="spacingAndGlyphs">Intuition: SDF values should be</text><text x="1039" y="452" textLength="152" lengthAdjust="spacingAndGlyphs">close to zero on the depths point</text><text x="1039" y="465" textLength="120" lengthAdjust="spacingAndGlyphs">cloud transformed into the</text><text x="1039" y="478">canonical frame.</text></g>
<rect x="1086.7" y="486" width="47.2" height="29" fill="#fff" stroke="#1c2a44" stroke-width="1.2"/>
<text x="1110.3" y="504.5" font-size="11" text-anchor="middle">Certifier</text>
<g stroke="#000" stroke-width="1" fill="none"><path d="M1110.5,515 V523 M1068,523 H1157"/><path d="M1068,523 V529.5" marker-end="url(#a)"/><path d="M1157,523 V529.5" marker-end="url(#a)"/><path d="M1068,587 V597 H1110.5 V606" marker-end="url(#a)"/></g>
<rect x="1044" y="530" width="51" height="57" fill="url(#heat)"/><rect x="1128.8" y="530" width="56.5" height="57" fill="url(#heat)"/>
<g fill="#e02030"><circle cx="1053" cy="547" r="1"/><circle cx="1054" cy="555" r="1"/><circle cx="1055" cy="563" r="1"/><circle cx="1057" cy="571" r="1"/><circle cx="1064" cy="573" r="1"/><circle cx="1072" cy="573" r="1"/><circle cx="1078" cy="569" r="1"/><circle cx="1080" cy="560" r="1"/><circle cx="1079" cy="551" r="1"/><circle cx="1082" cy="555" r="1"/>
<circle cx="1157" cy="540" r="1"/><circle cx="1153" cy="545" r="1"/><circle cx="1148" cy="549" r="1"/><circle cx="1144" cy="553" r="1"/><circle cx="1140" cy="558" r="1"/><circle cx="1143" cy="565" r="1"/><circle cx="1150" cy="572" r="1"/><circle cx="1160" cy="575" r="1"/><circle cx="1169" cy="577" r="1"/><circle cx="1173" cy="568" r="1"/><circle cx="1173" cy="559" r="1"/></g>
<path d="M1047,520 l5,6 l10,-14" stroke="#10b040" stroke-width="2.5" fill="none"/>
<path d="M1170,510 l14,14 M1184,510 l-14,14" stroke="#f01010" stroke-width="2.5"/>
<rect x="1074" y="606.4" width="72" height="33.6" fill="#fff" stroke="#1c2a44" stroke-width="1.2"/>
<text x="1110" y="620.5" font-size="11" text-anchor="middle">Pseudo-label</text><text x="1110" y="634.5" font-size="11" text-anchor="middle">Buffer</text>

<!-- REFERENCES -->
<rect x="1032.5" y="667" width="298" height="61" rx="12" fill="none" stroke="#c00000" stroke-width="3"/>
<rect x="1130" y="658" width="104" height="16" fill="#fff"/>
<text x="1182" y="673" font-size="19" text-anchor="middle" textLength="94" lengthAdjust="spacingAndGlyphs">References</text>
<g font-size="6.3" fill="#333">
<text x="1039" y="686" textLength="278" lengthAdjust="spacingAndGlyphs">[1] Oquab, Maxime, et al. "Dinov2: Learning robust visual features without supervision." <tspan font-style="italic">arXiv preprint</tspan></text>
<text x="1039" y="693.3"><tspan font-style="italic">arXiv:2304.07193</tspan> (2023).</text>
<text x="1039" y="701.3" textLength="272" lengthAdjust="spacingAndGlyphs">[2] Perez, Ethan, et al. "Film: Visual reasoning with a general conditioning layer." <tspan font-style="italic">Proceedings of the</tspan></text>
<text x="1039" y="708.6"><tspan font-style="italic">AAAI conference on artificial intelligence</tspan>. Vol. 32. No. 1. 2018.</text>
<text x="1039" y="716" textLength="268" lengthAdjust="spacingAndGlyphs">[3] Talak, Rajat, Lisa R. Peng, and Luca Carlone. "Certifiable object pose estimation: Foundations,</text>
<text x="1039" y="724" textLength="242" lengthAdjust="spacingAndGlyphs">learning models, and self-training." <tspan font-style="italic">IEEE Transactions on Robotics</tspan> 39.4 (2023): 2805-2824.</text>
</g>

<!-- PAPER / CODE -->
<rect x="1346.5" y="667" width="159" height="61" rx="12" fill="none" stroke="#c00000" stroke-width="3"/>
<rect x="1364" y="658" width="56" height="16" fill="#fff"/><rect x="1436" y="658" width="56" height="16" fill="#fff"/>
<text x="1392" y="673" font-size="19" text-anchor="middle" textLength="49" lengthAdjust="spacingAndGlyphs">Paper</text>
<text x="1464" y="673" font-size="19" text-anchor="middle" textLength="46" lengthAdjust="spacingAndGlyphs">Code</text>
<g>
<rect x="1370" y="676" width="45" height="42" fill="url(#qr)"/><rect x="1445" y="676" width="45" height="42" fill="url(#qr)"/>
<g fill="#fff" stroke="#000" stroke-width="2"><rect x="1371" y="677" width="9" height="9"/><rect x="1405" y="677" width="9" height="9"/><rect x="1371" y="708" width="9" height="9"/><rect x="1446" y="677" width="9" height="9"/><rect x="1480" y="677" width="9" height="9"/><rect x="1446" y="708" width="9" height="9"/></g>
<g><rect x="1374" y="680" width="3" height="3"/><rect x="1408" y="680" width="3" height="3"/><rect x="1374" y="711" width="3" height="3"/><rect x="1449" y="680" width="3" height="3"/><rect x="1483" y="680" width="3" height="3"/><rect x="1449" y="711" width="3" height="3"/></g>
</g>
</svg>
</body></html>
